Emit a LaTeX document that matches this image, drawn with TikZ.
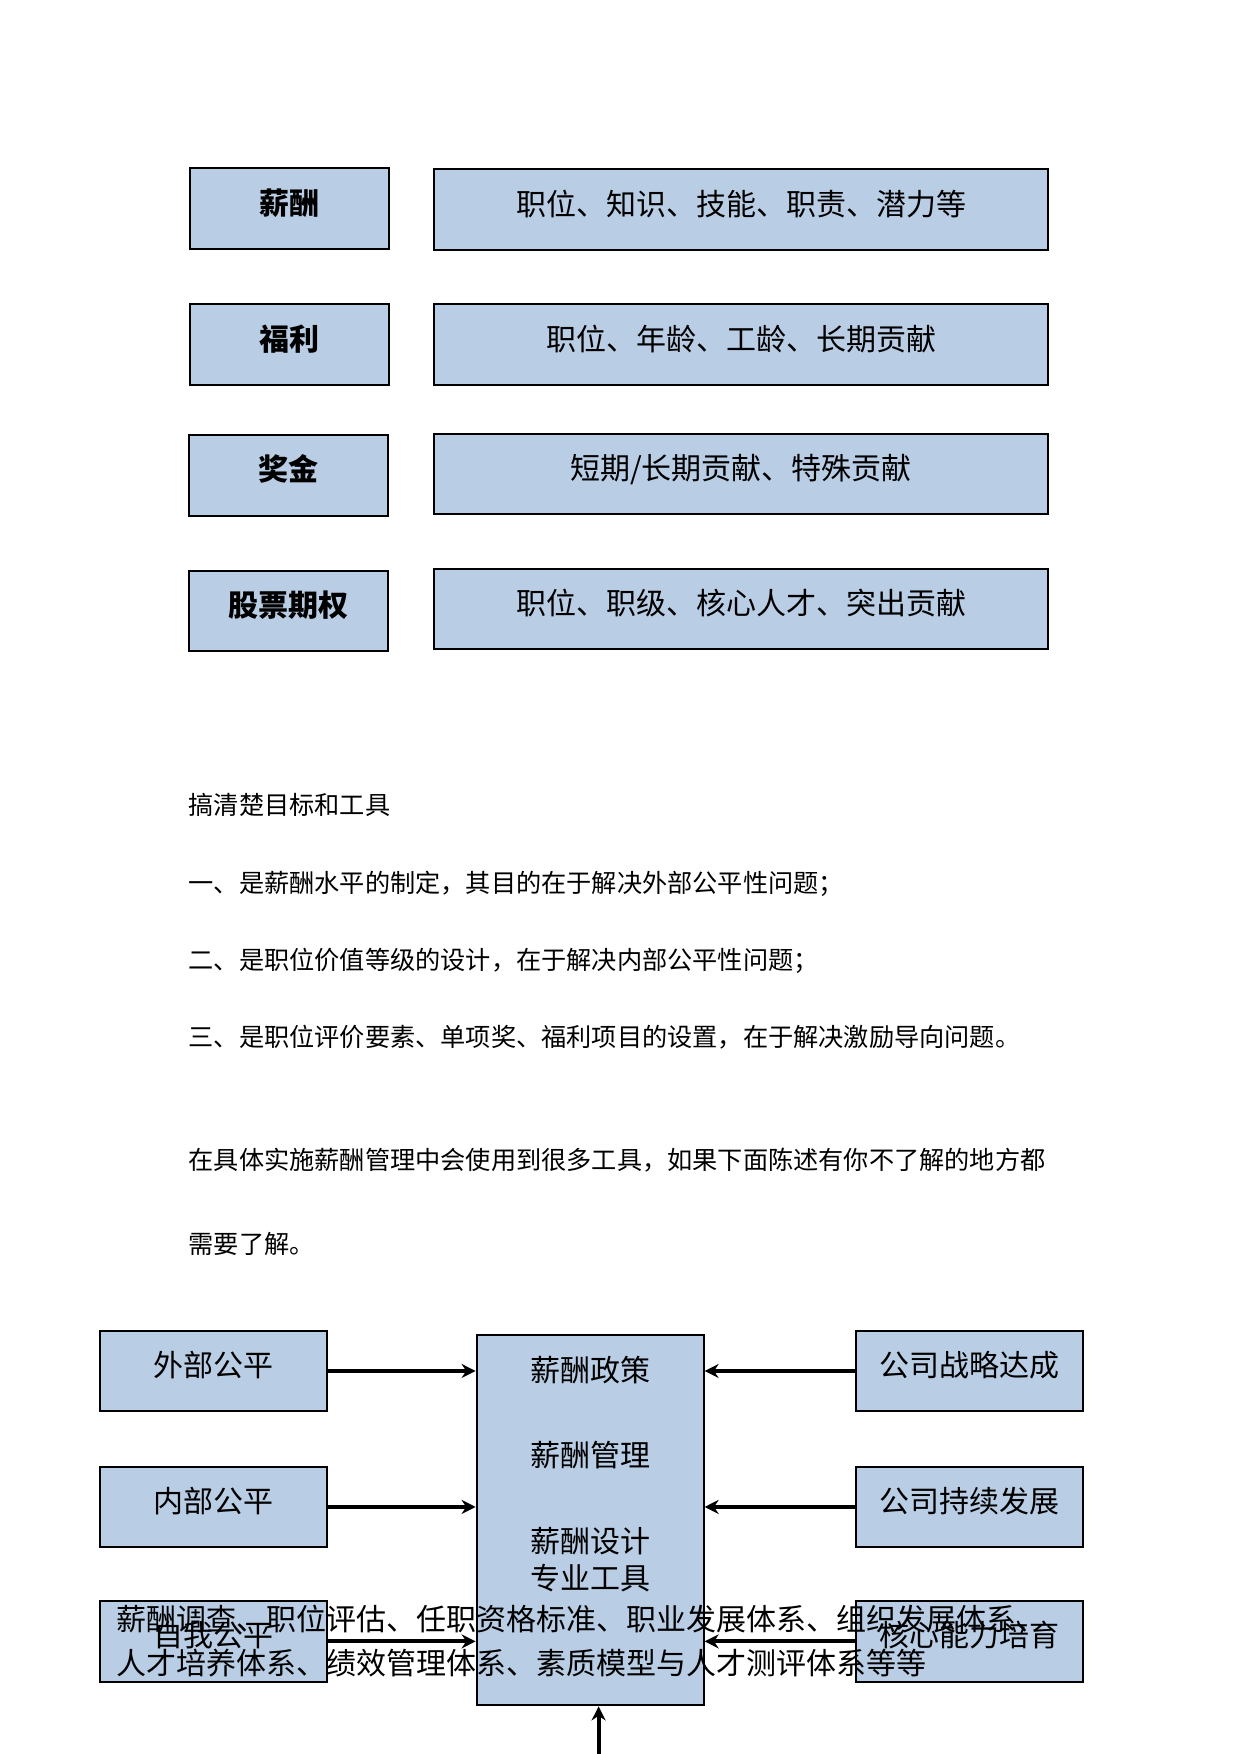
\documentclass[tikz,border=0pt]{standalone}
\usepackage{fontspec}
\setmainfont{Noto Sans CJK SC}
\usetikzlibrary{arrows.meta}
\definecolor{boxblue}{RGB}{185,205,229}
\newcommand{\boxfont}{\fontsize{15}{18}\selectfont}
\newcommand{\parafont}{\fontsize{12.6}{15}\selectfont}
\tikzset{
  bluebox/.style={draw=black, line width=1pt, fill=boxblue, inner sep=0pt,
    text height=11pt, text depth=5.6pt, font=\boxfont},
  keybox/.style={bluebox, minimum width=99.5pt, minimum height=40.3pt, font=\boxfont\bfseries},
  factbox/.style={bluebox, minimum width=307pt, minimum height=40.3pt},
  sidebox/.style={bluebox, minimum width=113.5pt, minimum height=40.3pt},
  para/.style={anchor=base west, inner sep=0pt, font=\parafont},
  arr/.style={line width=2pt, -{Stealth[length=7pt,width=7pt]}}
}
\begin{document}
\begin{tikzpicture}[x=0.5pt,y=-0.5pt]
  \useasboundingbox (0,0) rectangle (1240,1754);
  \begin{scope}[scale=0.996]
  % incentive types and what they reward
  \node[keybox] (xc) at (291,209.5) {薪酬};
  \node[keybox] (fl) at (291,346) {福利};
  \node[keybox] (jj) at (289.5,477.5) {奖金};
  \node[keybox] (gp) at (289.5,613.5) {股票期权};
  \node[factbox] (xcf) at (744,210.5) {职位、知识、技能、职责、潜力等};
  \node[factbox] (flf) at (744,346) {职位、年龄、工龄、长期贡献};
  \node[factbox] (jjf) at (744,476) {短期/长期贡献、特殊贡献};
  \node[factbox] (gpf) at (744,611.5) {职位、职级、核心人才、突出贡献};

  % paragraphs
  \node[para] (t0) at (189,818) {搞清楚目标和工具};
  \node[para] (t1) at (189,896) {一、是薪酬水平的制定，其目的在于解决外部公平性问题；};
  \node[para] (t2) at (189,973) {二、是职位价值等级的设计，在于解决内部公平性问题；};
  \node[para] (t3) at (189,1051) {三、是职位评价要素、单项奖、福利项目的设置，在于解决激励导向问题。};
  \node[para] (t4) at (189,1174) {在具体实施薪酬管理中会使用到很多工具，如果下面陈述有你不了解的地方都};
  \node[para] (t5) at (189,1259) {需要了解。};

  % pay system diagram
  \node[bluebox, minimum width=113.5pt, minimum height=185pt] (core) at (592.5,1526.5) {};
  \node[anchor=base, font=\boxfont] (zc) at (593,1387) {薪酬政策};
  \node[anchor=base, font=\boxfont] (gl) at (593,1472) {薪酬管理};
  \node[anchor=base, font=\boxfont] (sj) at (593,1559) {薪酬设计};
  \node[anchor=base, font=\boxfont] (gj) at (593,1596) {专业工具};

  \node[sidebox] (wb) at (214,1376.5) {外部公平};
  \node[sidebox] (nb) at (214,1513) {内部公平};
  \node[sidebox] (zw) at (214,1648) {自我公平};
  \node[sidebox] (zl) at (973,1376.5) {公司战略达成};
  \node[sidebox] (cx) at (973,1513) {公司持续发展};
  \node[sidebox] (hx) at (973,1648) {核心能力培育};

  \draw[arr] (wb.east) -- (wb.east -| core.west);
  \draw[arr] (nb.east) -- (nb.east -| core.west);
  \draw[arr] (zw.east) -- (zw.east -| core.west);
  \draw[arr] (zl.west) -- (zl.west -| core.east);
  \draw[arr] (cx.west) -- (cx.west -| core.east);
  \draw[arr] (hx.west) -- (hx.west -| core.east);
  \coordinate (tool) at (601,1761);
  \draw[arr] (tool) -- (tool |- core.south);

  \node[anchor=base west, inner sep=0pt, font=\boxfont] (tl1) at (117,1637)
    {薪酬调查、职位评估、任职资格标准、职业发展体系、组织发展体系、};
  \node[anchor=base west, inner sep=0pt, font=\boxfont] (tl2) at (117,1681)
    {人才培养体系、绩效管理体系、素质模型与人才测评体系等等};
  \end{scope}
\end{tikzpicture}
\end{document}
